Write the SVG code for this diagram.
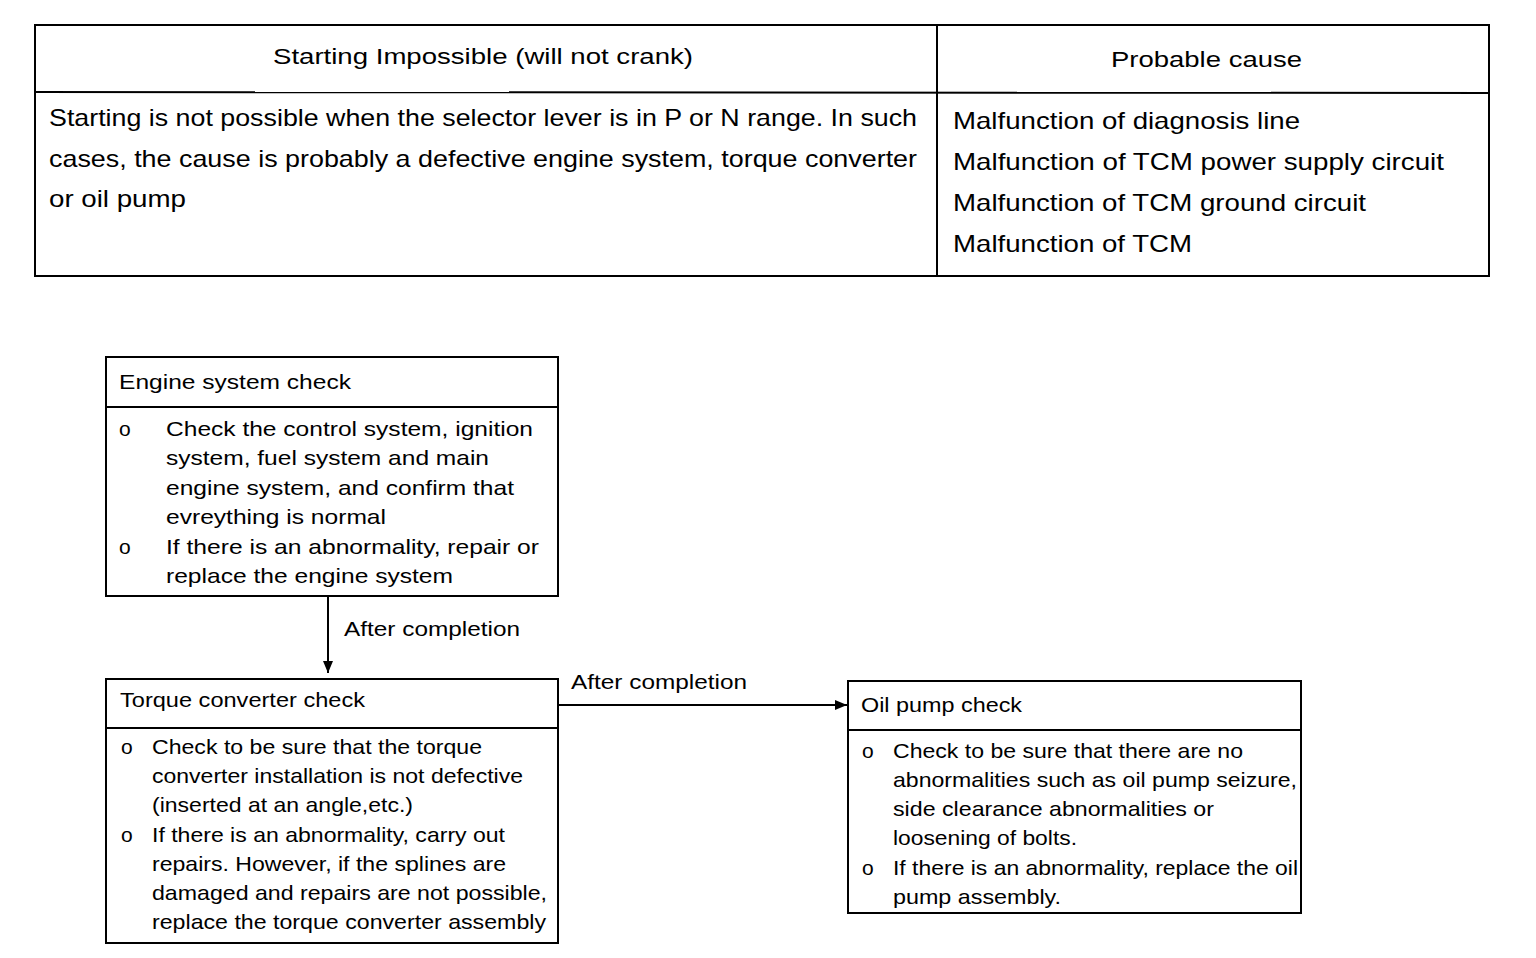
<svg xmlns="http://www.w3.org/2000/svg" width="1536" height="958" viewBox="0 0 1536 958">
<style>
text{font-family:"Liberation Sans",Arial,sans-serif;fill:#000}
.h{font-size:22px}
.b{font-size:24px}
.t{font-size:21px}
.box{fill:none;stroke:#000;stroke-width:2}
.ln{stroke:#000;stroke-width:2;fill:none}
</style>
<defs>
<marker id="ah" markerWidth="12" markerHeight="10" refX="12" refY="5" orient="auto" markerUnits="userSpaceOnUse">
<path d="M0,0 L12,5 L0,10 Z" fill="#000"/>
</marker>
</defs>
<rect width="1536" height="958" fill="#fff"/>
<g id="table">
<rect class="box" x="35" y="25" width="1454" height="251"/>
<line class="ln" x1="35" y1="92" x2="1489" y2="93"/>
<line class="ln" x1="937" y1="25" x2="937" y2="276"/>
<text class="h" x="273" y="64" textLength="420" lengthAdjust="spacingAndGlyphs">Starting Impossible (will not crank)</text>
<text class="h" x="1111" y="67" textLength="191" lengthAdjust="spacingAndGlyphs">Probable cause</text>
<text class="b" x="49" y="126" textLength="868" lengthAdjust="spacingAndGlyphs">Starting is not possible when the selector lever is in P or N range. In such</text>
<text class="b" x="49" y="167" textLength="868" lengthAdjust="spacingAndGlyphs">cases, the cause is probably a defective engine system, torque converter</text>
<text class="b" x="49" y="207" textLength="137" lengthAdjust="spacingAndGlyphs">or oil pump</text>
<text class="b" x="953" y="129" textLength="347" lengthAdjust="spacingAndGlyphs">Malfunction of diagnosis line</text>
<text class="b" x="953" y="170" textLength="491" lengthAdjust="spacingAndGlyphs">Malfunction of TCM power supply circuit</text>
<text class="b" x="953" y="211" textLength="413" lengthAdjust="spacingAndGlyphs">Malfunction of TCM ground circuit</text>
<text class="b" x="953" y="252" textLength="239" lengthAdjust="spacingAndGlyphs">Malfunction of TCM</text>
</g>
<g id="engine">
<rect class="box" x="106" y="357" width="452" height="239"/>
<line class="ln" x1="106" y1="407" x2="558" y2="407"/>
<text class="t" x="119" y="389" textLength="232" lengthAdjust="spacingAndGlyphs">Engine system check</text>
<text class="t" x="119" y="436">o</text>
<text class="t" x="166" y="436" textLength="367" lengthAdjust="spacingAndGlyphs">Check the control system, ignition</text>
<text class="t" x="166" y="465" textLength="323" lengthAdjust="spacingAndGlyphs">system, fuel system and main</text>
<text class="t" x="166" y="495" textLength="348" lengthAdjust="spacingAndGlyphs">engine system, and confirm that</text>
<text class="t" x="166" y="524" textLength="220" lengthAdjust="spacingAndGlyphs">evreything is normal</text>
<text class="t" x="119" y="554">o</text>
<text class="t" x="166" y="554" textLength="373" lengthAdjust="spacingAndGlyphs">If there is an abnormality, repair or</text>
<text class="t" x="166" y="583" textLength="287" lengthAdjust="spacingAndGlyphs">replace the engine system</text>
</g>
<g id="torque">
<rect class="box" x="106" y="679" width="452" height="264"/>
<line class="ln" x1="106" y1="728" x2="558" y2="728"/>
<text class="t" x="120" y="707" textLength="245" lengthAdjust="spacingAndGlyphs">Torque converter check</text>
<text class="t" x="121" y="754">o</text>
<text class="t" x="152" y="754" textLength="330" lengthAdjust="spacingAndGlyphs">Check to be sure that the torque</text>
<text class="t" x="152" y="783" textLength="371" lengthAdjust="spacingAndGlyphs">converter installation is not defective</text>
<text class="t" x="152" y="812" textLength="261" lengthAdjust="spacingAndGlyphs">(inserted at an angle,etc.)</text>
<text class="t" x="121" y="842">o</text>
<text class="t" x="152" y="842" textLength="353" lengthAdjust="spacingAndGlyphs">If there is an abnormality, carry out</text>
<text class="t" x="152" y="871" textLength="354" lengthAdjust="spacingAndGlyphs">repairs. However, if the splines are</text>
<text class="t" x="152" y="900" textLength="395" lengthAdjust="spacingAndGlyphs">damaged and repairs are not possible,</text>
<text class="t" x="152" y="929" textLength="394" lengthAdjust="spacingAndGlyphs">replace the torque converter assembly</text>
</g>
<g id="oilpump">
<rect class="box" x="848" y="681" width="453" height="232"/>
<line class="ln" x1="848" y1="730" x2="1301" y2="730"/>
<text class="t" x="861" y="712" textLength="161" lengthAdjust="spacingAndGlyphs">Oil pump check</text>
<text class="t" x="862" y="758">o</text>
<text class="t" x="893" y="758" textLength="350" lengthAdjust="spacingAndGlyphs">Check to be sure that there are no</text>
<text class="t" x="893" y="787" textLength="404" lengthAdjust="spacingAndGlyphs">abnormalities such as oil pump seizure,</text>
<text class="t" x="893" y="816" textLength="321" lengthAdjust="spacingAndGlyphs">side clearance abnormalities or</text>
<text class="t" x="893" y="845" textLength="184" lengthAdjust="spacingAndGlyphs">loosening of bolts.</text>
<text class="t" x="862" y="875">o</text>
<text class="t" x="893" y="875" textLength="405" lengthAdjust="spacingAndGlyphs">If there is an abnormality, replace the oil</text>
<text class="t" x="893" y="904" textLength="168" lengthAdjust="spacingAndGlyphs">pump assembly.</text>
</g>
<g id="connectors">
<line class="ln" x1="328" y1="597" x2="328" y2="673" marker-end="url(#ah)"/>
<text class="t" x="344" y="636" textLength="176" lengthAdjust="spacingAndGlyphs">After completion</text>
<line class="ln" x1="559" y1="705" x2="847" y2="705" marker-end="url(#ah)"/>
<text class="t" x="571" y="689" textLength="176" lengthAdjust="spacingAndGlyphs">After completion</text>
</g>
</svg>
